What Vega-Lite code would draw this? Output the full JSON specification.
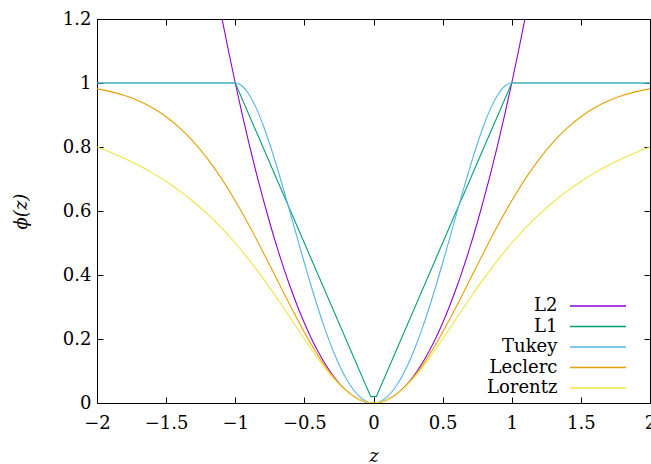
{
  "$schema": "https://vega.github.io/schema/vega-lite/v6.json",
  "width": 553,
  "height": 384,
  "autosize": "none",
  "padding": {"left": 97, "top": 19, "right": 1, "bottom": 61},
  "background": "white",
  "config": {
    "view": {"stroke": "#000", "strokeWidth": 1},
    "font": "DejaVu Serif",
    "axis": {"grid": false, "domain": false, "tickColor": "#000", "tickSize": -6, "tickWidth": 1,
             "labelFont": "DejaVu Serif", "labelFontSize": 18, "labelColor": "#000",
             "titleFont": "DejaVu Serif", "titleFontSize": 18, "titleColor": "#000", "titleFontWeight": "normal", "titleFontStyle": "italic"}
  },
  "data": {"values": [
    {"f":"L2","z":-1.1,"v":1.21},{"f":"L2","z":-1.05,"v":1.1025},{"f":"L2","z":-1.0,"v":1.0},{"f":"L2","z":-0.95,"v":0.9025},{"f":"L2","z":-0.9,"v":0.81},{"f":"L2","z":-0.85,"v":0.7225},{"f":"L2","z":-0.8,"v":0.64},{"f":"L2","z":-0.75,"v":0.5625},{"f":"L2","z":-0.7,"v":0.49},{"f":"L2","z":-0.65,"v":0.4225},{"f":"L2","z":-0.6,"v":0.36},{"f":"L2","z":-0.55,"v":0.3025},{"f":"L2","z":-0.5,"v":0.25},{"f":"L2","z":-0.45,"v":0.2025},{"f":"L2","z":-0.4,"v":0.16},{"f":"L2","z":-0.35,"v":0.1225},{"f":"L2","z":-0.3,"v":0.09},{"f":"L2","z":-0.25,"v":0.0625},{"f":"L2","z":-0.2,"v":0.04},{"f":"L2","z":-0.15,"v":0.0225},{"f":"L2","z":-0.1,"v":0.01},{"f":"L2","z":-0.05,"v":0.0025},{"f":"L2","z":0,"v":0},{"f":"L2","z":0.05,"v":0.0025},{"f":"L2","z":0.1,"v":0.01},{"f":"L2","z":0.15,"v":0.0225},{"f":"L2","z":0.2,"v":0.04},{"f":"L2","z":0.25,"v":0.0625},{"f":"L2","z":0.3,"v":0.09},{"f":"L2","z":0.35,"v":0.1225},{"f":"L2","z":0.4,"v":0.16},{"f":"L2","z":0.45,"v":0.2025},{"f":"L2","z":0.5,"v":0.25},{"f":"L2","z":0.55,"v":0.3025},{"f":"L2","z":0.6,"v":0.36},{"f":"L2","z":0.65,"v":0.4225},{"f":"L2","z":0.7,"v":0.49},{"f":"L2","z":0.75,"v":0.5625},{"f":"L2","z":0.8,"v":0.64},{"f":"L2","z":0.85,"v":0.7225},{"f":"L2","z":0.9,"v":0.81},{"f":"L2","z":0.95,"v":0.9025},{"f":"L2","z":1.0,"v":1.0},{"f":"L2","z":1.05,"v":1.1025},{"f":"L2","z":1.1,"v":1.21},
    {"f":"L1","z":-2,"v":1},{"f":"L1","z":-1,"v":1},{"f":"L1","z":-0.02,"v":0.02},{"f":"L1","z":0.02,"v":0.02},{"f":"L1","z":1,"v":1},{"f":"L1","z":2,"v":1},
    {"f":"Tukey","z":-2,"v":1},{"f":"Tukey","z":-1.5,"v":1},{"f":"Tukey","z":-1,"v":1},{"f":"Tukey","z":-0.95,"v":0.990494},{"f":"Tukey","z":-0.9,"v":0.9639},{"f":"Tukey","z":-0.85,"v":0.922994},{"f":"Tukey","z":-0.8,"v":0.8704},{"f":"Tukey","z":-0.75,"v":0.808594},{"f":"Tukey","z":-0.7,"v":0.7399},{"f":"Tukey","z":-0.65,"v":0.666494},{"f":"Tukey","z":-0.6,"v":0.5904},{"f":"Tukey","z":-0.55,"v":0.513494},{"f":"Tukey","z":-0.5,"v":0.4375},{"f":"Tukey","z":-0.45,"v":0.363994},{"f":"Tukey","z":-0.4,"v":0.2944},{"f":"Tukey","z":-0.35,"v":0.229994},{"f":"Tukey","z":-0.3,"v":0.1719},{"f":"Tukey","z":-0.25,"v":0.121094},{"f":"Tukey","z":-0.2,"v":0.0784},{"f":"Tukey","z":-0.15,"v":0.044494},{"f":"Tukey","z":-0.1,"v":0.0199},{"f":"Tukey","z":-0.05,"v":0.004994},{"f":"Tukey","z":0,"v":0},{"f":"Tukey","z":0.05,"v":0.004994},{"f":"Tukey","z":0.1,"v":0.0199},{"f":"Tukey","z":0.15,"v":0.044494},{"f":"Tukey","z":0.2,"v":0.0784},{"f":"Tukey","z":0.25,"v":0.121094},{"f":"Tukey","z":0.3,"v":0.1719},{"f":"Tukey","z":0.35,"v":0.229994},{"f":"Tukey","z":0.4,"v":0.2944},{"f":"Tukey","z":0.45,"v":0.363994},{"f":"Tukey","z":0.5,"v":0.4375},{"f":"Tukey","z":0.55,"v":0.513494},{"f":"Tukey","z":0.6,"v":0.5904},{"f":"Tukey","z":0.65,"v":0.666494},{"f":"Tukey","z":0.7,"v":0.7399},{"f":"Tukey","z":0.75,"v":0.808594},{"f":"Tukey","z":0.8,"v":0.8704},{"f":"Tukey","z":0.85,"v":0.922994},{"f":"Tukey","z":0.9,"v":0.9639},{"f":"Tukey","z":0.95,"v":0.990494},{"f":"Tukey","z":1,"v":1},{"f":"Tukey","z":1.5,"v":1},{"f":"Tukey","z":2,"v":1},
    {"f":"Leclerc","z":-2.0,"v":0.98168},{"f":"Leclerc","z":-1.9,"v":0.97295},{"f":"Leclerc","z":-1.8,"v":0.96084},{"f":"Leclerc","z":-1.7,"v":0.94442},{"f":"Leclerc","z":-1.6,"v":0.9227},{"f":"Leclerc","z":-1.5,"v":0.8946},{"f":"Leclerc","z":-1.4,"v":0.85914},{"f":"Leclerc","z":-1.3,"v":0.81548},{"f":"Leclerc","z":-1.2,"v":0.76307},{"f":"Leclerc","z":-1.1,"v":0.7018},{"f":"Leclerc","z":-1.0,"v":0.63212},{"f":"Leclerc","z":-0.9,"v":0.55514},{"f":"Leclerc","z":-0.8,"v":0.47271},{"f":"Leclerc","z":-0.7,"v":0.38737},{"f":"Leclerc","z":-0.6,"v":0.30232},{"f":"Leclerc","z":-0.5,"v":0.2212},{"f":"Leclerc","z":-0.4,"v":0.14786},{"f":"Leclerc","z":-0.3,"v":0.08607},{"f":"Leclerc","z":-0.2,"v":0.03921},{"f":"Leclerc","z":-0.1,"v":0.00995},{"f":"Leclerc","z":0,"v":0},{"f":"Leclerc","z":0.1,"v":0.00995},{"f":"Leclerc","z":0.2,"v":0.03921},{"f":"Leclerc","z":0.3,"v":0.08607},{"f":"Leclerc","z":0.4,"v":0.14786},{"f":"Leclerc","z":0.5,"v":0.2212},{"f":"Leclerc","z":0.6,"v":0.30232},{"f":"Leclerc","z":0.7,"v":0.38737},{"f":"Leclerc","z":0.8,"v":0.47271},{"f":"Leclerc","z":0.9,"v":0.55514},{"f":"Leclerc","z":1.0,"v":0.63212},{"f":"Leclerc","z":1.1,"v":0.7018},{"f":"Leclerc","z":1.2,"v":0.76307},{"f":"Leclerc","z":1.3,"v":0.81548},{"f":"Leclerc","z":1.4,"v":0.85914},{"f":"Leclerc","z":1.5,"v":0.8946},{"f":"Leclerc","z":1.6,"v":0.9227},{"f":"Leclerc","z":1.7,"v":0.94442},{"f":"Leclerc","z":1.8,"v":0.96084},{"f":"Leclerc","z":1.9,"v":0.97295},{"f":"Leclerc","z":2.0,"v":0.98168},
    {"f":"Lorentz","z":-2.0,"v":0.8},{"f":"Lorentz","z":-1.9,"v":0.78308},{"f":"Lorentz","z":-1.8,"v":0.76415},{"f":"Lorentz","z":-1.7,"v":0.74293},{"f":"Lorentz","z":-1.6,"v":0.7191},{"f":"Lorentz","z":-1.5,"v":0.69231},{"f":"Lorentz","z":-1.4,"v":0.66216},{"f":"Lorentz","z":-1.3,"v":0.62825},{"f":"Lorentz","z":-1.2,"v":0.59016},{"f":"Lorentz","z":-1.1,"v":0.54751},{"f":"Lorentz","z":-1.0,"v":0.5},{"f":"Lorentz","z":-0.9,"v":0.44751},{"f":"Lorentz","z":-0.8,"v":0.39024},{"f":"Lorentz","z":-0.7,"v":0.32886},{"f":"Lorentz","z":-0.6,"v":0.26471},{"f":"Lorentz","z":-0.5,"v":0.2},{"f":"Lorentz","z":-0.4,"v":0.13793},{"f":"Lorentz","z":-0.3,"v":0.08257},{"f":"Lorentz","z":-0.2,"v":0.03846},{"f":"Lorentz","z":-0.1,"v":0.0099},{"f":"Lorentz","z":0,"v":0},{"f":"Lorentz","z":0.1,"v":0.0099},{"f":"Lorentz","z":0.2,"v":0.03846},{"f":"Lorentz","z":0.3,"v":0.08257},{"f":"Lorentz","z":0.4,"v":0.13793},{"f":"Lorentz","z":0.5,"v":0.2},{"f":"Lorentz","z":0.6,"v":0.26471},{"f":"Lorentz","z":0.7,"v":0.32886},{"f":"Lorentz","z":0.8,"v":0.39024},{"f":"Lorentz","z":0.9,"v":0.44751},{"f":"Lorentz","z":1.0,"v":0.5},{"f":"Lorentz","z":1.1,"v":0.54751},{"f":"Lorentz","z":1.2,"v":0.59016},{"f":"Lorentz","z":1.3,"v":0.62825},{"f":"Lorentz","z":1.4,"v":0.66216},{"f":"Lorentz","z":1.5,"v":0.69231},{"f":"Lorentz","z":1.6,"v":0.7191},{"f":"Lorentz","z":1.7,"v":0.74293},{"f":"Lorentz","z":1.8,"v":0.76415},{"f":"Lorentz","z":1.9,"v":0.78308},{"f":"Lorentz","z":2.0,"v":0.8}
  ]},
  "resolve": {"axis": {"x": "independent", "y": "independent"}},
  "layer": [
    {
      "transform": [{"filter": {"field": "f", "equal": "L2"}}],
      "mark": {"type": "line", "clip": true, "strokeWidth": 1.1, "interpolate": "monotone"},
      "encoding": {
        "x": {"field": "z", "type": "quantitative", "scale": {"domain": [-2, 2], "nice": false, "zero": false},
              "axis": {"orient": "bottom", "title": "z", "values": [-2, -1.5, -1, -0.5, 0, 0.5, 1, 1.5, 2], "format": "~g", "labelPadding": 17, "titlePadding": 15, "labelFlush": false}},
        "y": {"field": "v", "type": "quantitative", "scale": {"domain": [0, 1.2], "nice": false},
              "axis": {"orient": "left", "title": "ϕ(z)", "values": [0, 0.2, 0.4, 0.6, 0.8, 1, 1.2], "format": "~g", "labelPadding": 12, "titlePadding": 32, "labelFlush": false}},
        "color": {"field": "f", "type": "nominal",
                  "scale": {"domain": ["L2", "L1", "Tukey", "Leclerc", "Lorentz"], "range": ["#9400d3", "#009e73", "#56b4e9", "#e69f00", "#f0e442"]},
                  "legend": {"title": null, "orient": "none", "legendX": 490, "legendY": 276, "padding": 0,
                             "symbolType": "M-2.8,0H2.8", "symbolSize": 400, "symbolStrokeWidth": 1.5, "symbolOpacity": 1,
                             "labelAlign": "right", "labelOffset": -51.6, "labelFont": "DejaVu Serif", "labelFontSize": 18, "labelColor": "#000",
                             "rowPadding": 0.5, "labelLimit": 200}}
      }
    },
    {
      "transform": [{"filter": {"field": "f", "equal": "L1"}}],
      "mark": {"type": "line", "clip": true, "strokeWidth": 1.1, "interpolate": "linear"},
      "encoding": {
        "x": {"field": "z", "type": "quantitative", "axis": null},
        "y": {"field": "v", "type": "quantitative", "axis": null},
        "color": {"field": "f", "type": "nominal"}
      }
    },
    {
      "transform": [{"filter": {"field": "f", "oneOf": ["Tukey", "Leclerc", "Lorentz"]}}],
      "mark": {"type": "line", "clip": true, "strokeWidth": 1.1, "interpolate": "monotone"},
      "encoding": {
        "x": {"field": "z", "type": "quantitative", "axis": null},
        "y": {"field": "v", "type": "quantitative", "axis": null},
        "color": {"field": "f", "type": "nominal"}
      }
    },
    {
      "mark": {"type": "rule", "opacity": 0},
      "encoding": {
        "x": {"field": "z", "type": "quantitative",
              "axis": {"orient": "top", "title": null, "labels": false, "values": [-2, -1.5, -1, -0.5, 0, 0.5, 1, 1.5, 2]}},
        "y": {"field": "v", "type": "quantitative",
              "axis": {"orient": "right", "title": null, "labels": false, "values": [0, 0.2, 0.4, 0.6, 0.8, 1, 1.2]}}
      }
    }
  ]
}
